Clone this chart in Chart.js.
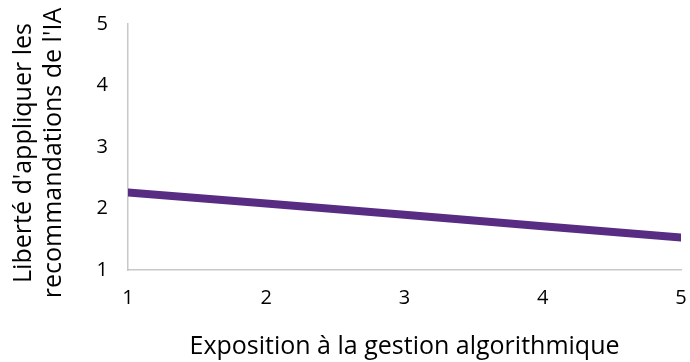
<!DOCTYPE html>
<html lang="fr">
  <head>
    <meta charset="UTF-8" />
    <title>Liberté d'appliquer les recommandations de l'IA</title>
    <script src="https://cdn.jsdelivr.net/npm/chart.js@4"></script>
    <style>
      html, body { margin: 0; padding: 0; background: #fff; }
      #wrap { width: 690px; height: 362px; }
    </style>
  </head>
  <body>
    <div id="wrap"><canvas id="chart"></canvas></div>
    <script>
      const exposition = [1, 2, 3, 4, 5];
      const liberte = [2.26, 2.08, 1.9, 1.71, 1.53];
      const yTicks = [1, 2, 3, 4, 5];
      const yTitle = ["Liberté d'appliquer les", "recommandations de l'IA"];
      const xTitle = "Exposition à la gestion algorithmique";

      const points = exposition.map(function (x, i) {
        return { x: x, y: liberte[i] };
      });

      const font = "'Open Sans', sans-serif";

      // y title drawn by hand: it sits a little below the plot centre in the original
      const yTitlePlugin = {
        id: "yTitle",
        afterDraw: function (chart) {
          const c = chart.ctx;
          const area = chart.chartArea;
          const cy = (area.top + area.bottom) / 2 + 6;
          const baselines = [31, 61];
          c.save();
          c.fillStyle = "#000";
          c.font = "25px " + font;
          c.textAlign = "center";
          c.textBaseline = "alphabetic";
          yTitle.forEach(function (line, i) {
            c.save();
            c.translate(baselines[i], cy);
            c.rotate(-Math.PI / 2);
            c.fillText(line, 0, 0);
            c.restore();
          });
          c.restore();
        },
      };

      const ctx = document.querySelector("#chart").getContext("2d");
      new Chart(ctx, {
        type: "line",
        data: {
          datasets: [
            {
              data: points,
              borderColor: "#582c83",
              borderWidth: 8,
              borderCapStyle: "round",
              pointRadius: 0,
              tension: 0,
            },
          ],
        },
        options: {
          responsive: true,
          maintainAspectRatio: false,
          animation: false,
          layout: { padding: { top: 24, right: 9, bottom: 0, left: 0 } },
          plugins: { legend: { display: false }, tooltip: { enabled: false } },
          scales: {
            x: {
              type: "linear",
              min: 1,
              max: 5,
              afterFit: function (axis) {
                axis.height = 92;
                axis.paddingLeft = 0;
                axis.paddingRight = 0;
              },
              grid: { display: false, drawTicks: false },
              border: { color: "#c8c8c8", width: 1.5 },
              ticks: {
                stepSize: 1,
                padding: 16,
                color: "#000",
                font: { family: font, size: 20 },
              },
              title: {
                display: true,
                text: xTitle,
                color: "#000",
                padding: { top: 0, bottom: 0 },
                font: { family: font, size: 25, lineHeight: 1.2 },
              },
            },
            y: {
              min: 1,
              max: 5,
              afterFit: function (axis) {
                axis.width = 128;
                axis.paddingTop = 0;
                axis.paddingBottom = 0;
              },
              afterBuildTicks: function (axis) {
                axis.ticks = yTicks.map(function (v) { return { value: v }; });
              },
              grid: { display: false, drawTicks: false },
              border: { color: "#c8c8c8", width: 1.5 },
              ticks: {
                padding: 20,
                color: "#000",
                font: { family: font, size: 20 },
              },
            },
          },
        },
        plugins: [yTitlePlugin],
      });
    </script>
  </body>
</html>
